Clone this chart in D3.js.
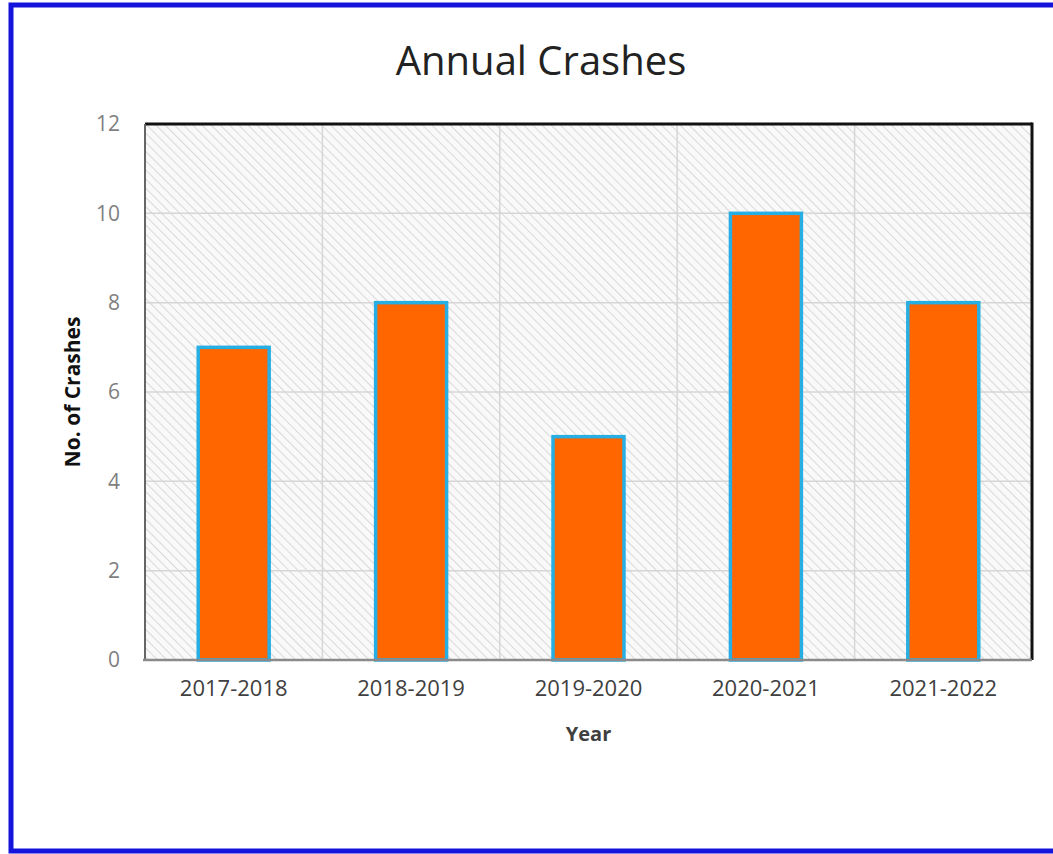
<!DOCTYPE html>
<html>
<head>
<meta charset="utf-8">
<script src="https://cdn.jsdelivr.net/npm/d3@7"></script>
<style>
  html, body { margin: 0; padding: 0; background: #fff; }
  svg { display: block; font-family: "Open Sans", sans-serif; }
</style>
</head>
<body>
<svg id="chart" width="1053" height="854"></svg>
<script>
// data
const years = ["2017-2018", "2018-2019", "2019-2020", "2020-2021", "2021-2022"];
const crashes = [7, 8, 5, 10, 8];
const yTicks = [0, 2, 4, 6, 8, 10, 12];

const width = 1053, height = 854;
const margin = { top: 124, right: 21, bottom: 194, left: 145 };
const W = width - margin.left - margin.right;
const H = height - margin.top - margin.bottom;

const svg = d3.select("#chart");

// hatch pattern for plot background (lines run top-left -> bottom-right)
const defs = svg.append("defs");
const pat = defs.append("pattern")
    .attr("id", "hatch")
    .attr("patternUnits", "userSpaceOnUse")
    .attr("width", 6.5).attr("height", 6.5)
    .attr("patternTransform", "rotate(-45)");
pat.append("rect").attr("width", 6.5).attr("height", 6.5).attr("fill", "#f9f9f9");
pat.append("line")
    .attr("x1", 0).attr("y1", 0).attr("x2", 0).attr("y2", 6.5)
    .attr("stroke", "#d9d9d9").attr("stroke-width", 2);

// outer blue frame
svg.append("rect")
    .attr("x", 11).attr("y", 5)
    .attr("width", width).attr("height", 846)
    .attr("fill", "none")
    .attr("stroke", "#1414dc")
    .attr("stroke-width", 5);

// title
svg.append("text")
    .attr("x", 541).attr("y", 75)
    .attr("text-anchor", "middle")
    .attr("font-size", "40px")
    .attr("fill", "#222")
    .text("Annual Crashes");

const g = svg.append("g").attr("transform", `translate(${margin.left},${margin.top})`);

const x = d3.scaleBand().domain(years).range([0, W]).paddingInner(0.6).paddingOuter(0.3);
const xGrid = d3.scaleBand().domain(years).range([0, W]);
const y = d3.scaleLinear().domain([0, 12]).range([H, 0]);

g.append("rect")
    .attr("width", W).attr("height", H)
    .attr("fill", "url(#hatch)");

// horizontal gridlines
g.append("g")
    .selectAll("line")
    .data(yTicks.slice(1, -1))
    .join("line")
    .attr("x1", 0).attr("x2", W)
    .attr("y1", d => y(d)).attr("y2", d => y(d))
    .attr("stroke", "#d6d6d6").attr("stroke-width", 1.5);

// vertical gridlines between categories
g.append("g")
    .selectAll("line")
    .data(years.slice(1))
    .join("line")
    .attr("x1", d => xGrid(d)).attr("x2", d => xGrid(d))
    .attr("y1", 0).attr("y2", H)
    .attr("stroke", "#d6d6d6").attr("stroke-width", 1.5);

// bars
g.selectAll("rect.bar")
    .data(years)
    .join("rect")
    .attr("class", "bar")
    .attr("x", d => x(d))
    .attr("y", (d, i) => y(crashes[i]))
    .attr("width", x.bandwidth())
    .attr("height", (d, i) => H - y(crashes[i]))
    .attr("fill", "#ff6600")
    .attr("stroke", "#27aee3")
    .attr("stroke-width", 3.5);

// frame: black top/right, grey left/bottom
g.append("line").attr("x1", 0).attr("x2", W).attr("y1", 0).attr("y2", 0)
    .attr("stroke", "#111").attr("stroke-width", 3);
g.append("line").attr("x1", W).attr("x2", W).attr("y1", -1.5).attr("y2", H)
    .attr("stroke", "#111").attr("stroke-width", 3);
g.append("line").attr("x1", 0).attr("x2", 0).attr("y1", 0).attr("y2", H)
    .attr("stroke", "#666").attr("stroke-width", 2);
g.append("line").attr("x1", -2).attr("x2", W).attr("y1", H).attr("y2", H)
    .attr("stroke", "#8a8a8a").attr("stroke-width", 2.5);

// y axis labels
const yAxis = g.append("g")
    .call(d3.axisLeft(y).tickValues(yTicks).tickSize(0).tickPadding(25));
yAxis.select(".domain").remove();
yAxis.selectAll("text")
    .attr("font-family", "Open Sans, sans-serif")
    .attr("font-size", "21px")
    .attr("fill", "#7f7f7f");

// x axis labels
const xAxis = g.append("g")
    .attr("transform", `translate(0,${H})`)
    .call(d3.axisBottom(xGrid).tickSize(0).tickPadding(20));
xAxis.select(".domain").remove();
xAxis.selectAll("text")
    .attr("font-family", "Open Sans, sans-serif")
    .attr("font-size", "22px")
    .attr("fill", "#404040");

// axis titles
svg.append("text")
    .attr("x", margin.left + W / 2).attr("y", 741)
    .attr("text-anchor", "middle")
    .attr("font-size", "20px")
    .attr("font-weight", "bold")
    .attr("fill", "#404040")
    .text("Year");

svg.append("text")
    .attr("transform", `translate(80,${margin.top + H / 2}) rotate(-90)`)
    .attr("text-anchor", "middle")
    .attr("font-size", "21px")
    .attr("font-weight", "bold")
    .attr("fill", "#111")
    .text("No. of Crashes");
</script>
</body>
</html>
